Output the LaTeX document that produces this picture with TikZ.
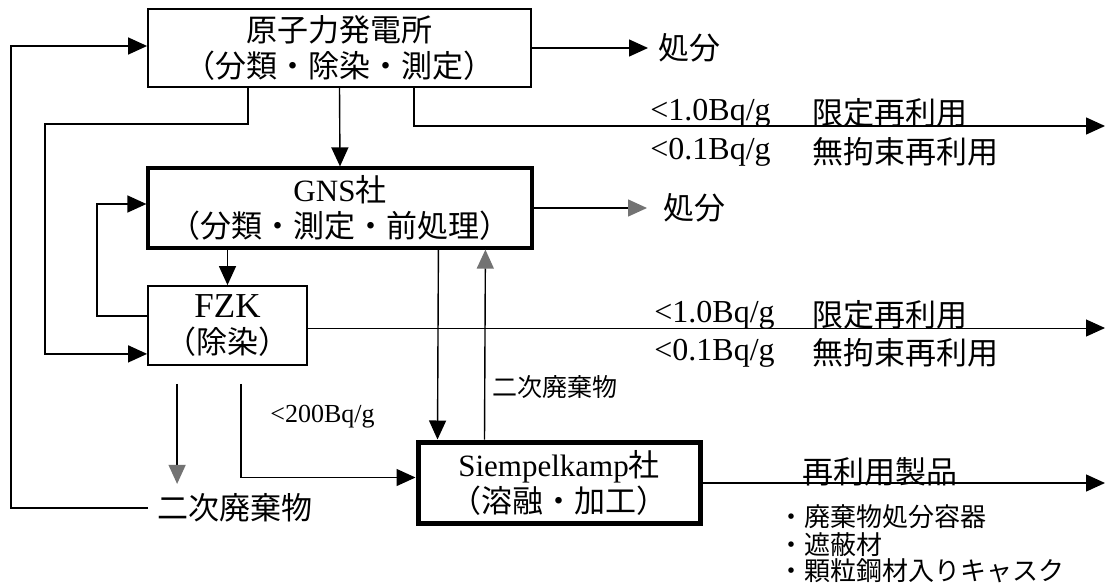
\documentclass[tikz,border=0pt]{standalone}
\usepackage{fontspec}
\setmainfont{Liberation Serif}
\newfontfamily\jp{Noto Sans CJK JP}
\usetikzlibrary{arrows.meta,calc}

\begin{document}
\begin{tikzpicture}[x=0.5pt, y=-0.5pt, font=\fontsize{15.5}{18}\selectfont,
      box/.style={draw, line width=0.9pt, align=center, inner sep=0pt, minimum height=39pt},
      firm/.style={box, line width=1.6pt}, melt/.style={box, line width=2.5pt},
      ar/.style={-{Triangle[length=9.5pt, width=8.5pt]}, line width=0.7pt},
      gar/.style={ar, -{Triangle[length=9.5pt, width=8.5pt, color=black!55]}},
      lbl/.style={anchor=west, inner sep=0pt},
      bq/.style={lbl, font=\fontsize{16}{18}\selectfont},
      small/.style={lbl, font=\fontsize{12.5}{14}\selectfont}]
    \useasboundingbox (0,0) rectangle (1106,583);
    % boxes
    \node[box, minimum width=191.5pt] (plant) at (339.5,48) {{\jp 原子力発電所}\\{\jp （分類・除染・測定）}};
    \node[firm, minimum width=192pt, minimum height=40pt] (gns) at (340,208) {GNS{\jp 社}\\{\jp （分類・測定・前処理）}};
    \node[box, minimum width=79.5pt, minimum height=39.5pt] (fzk) at (227.5,325.5) {\fontsize{17.5}{18}\selectfont FZK\\{\jp （除染）}};
    \node[melt, minimum width=141pt, minimum height=40.5pt] (siemp) at (559,482.5) {Siempelkamp{\jp 社}\\{\jp （溶融・加工）}};
    % texts
    \node[lbl] (disp1) at (658,48) {\jp 処分};
    \node[lbl] (disp2) at (663,208) {\jp 処分};
    \node[bq] (lim1) at (650,113) {<1.0Bq/g};
    \node[bq] (free1) at (650,152) {<0.1Bq/g};
    \node[lbl] at (812,113) {\jp 限定再利用};
    \node[lbl] at (812,152) {\jp 無拘束再利用};
    \node[bq] (lim2) at (654,315) {<1.0Bq/g};
    \node[bq] (free2) at (654,353) {<0.1Bq/g};
    \node[lbl] at (812,315) {\jp 限定再利用};
    \node[lbl] at (812,353) {\jp 無拘束再利用};
    \node[lbl, inner sep=4.5pt] (waste) at (148,508) {\jp 二次廃棄物};
    \node[small] (sec) at (492,387) {\jp 二次廃棄物};
    \node[lbl, font=\fontsize{13}{15}\selectfont] (lim3) at (270,417) {<200Bq/g};
    \node[lbl] (prod) at (802,472) {\jp 再利用製品};
    \node[lbl, font=\fontsize{13}{14}\selectfont] (use1) at (778,517) {\jp ・廃棄物処分容器};
    \node[lbl, font=\fontsize{13}{14}\selectfont] (use2) at (778,545) {\jp ・遮蔽材};
    \node[lbl, font=\fontsize{13}{14}\selectfont] (use3) at (778,571) {\jp ・顆粒鋼材入りキャスク};
    \coordinate (endA) at (1105,126);
    \coordinate (endF) at (1105,328);
    \coordinate (endS) at (1105,483);
    % connectors
    \draw[ar] (waste.west) -| (11,46) -- ($(plant.west)+(0,-2)$);
    \draw[ar] (plant.south west) ++(101,0) |- (45,124) |- ($(fzk.south west)+(0,-12)$);
    \draw[ar] (plant.south) -- (gns.north);
    \draw[ar] (plant.east) -- ($(disp1.west)+(-10,0)$);
    \draw[ar] (plant.south west) ++(267,0) |- (endA);
    \draw[gar] (gns.east) -- ($(disp2.west)+(-16,0)$);
    \draw[ar] ($(fzk.north west)+(0,31)$) -| (97,204) -- ($(gns.west)+(0,-4)$);
    \draw[ar] (fzk.north |- gns.south) -- (fzk.north);
    \draw[ar] (gns.south west) ++(292,0) -- ($(siemp.north west)+(22,0)$);
    \draw[gar] (siemp.north west) ++(69,0) -- ($(gns.south west)+(339,0)$);
    \draw[ar, line width=0.5pt] (fzk.east |- endF) -- (endF);
    \draw[gar] (fzk.south west) ++(30,18) -- ++(0,100);
    \draw[ar] (fzk.south west) ++(94,18) |- ($(siemp.west)+(0,-5)$);
    \draw[ar] (siemp.east |- endS) -- (endS);
  \end{tikzpicture}
\end{document}
